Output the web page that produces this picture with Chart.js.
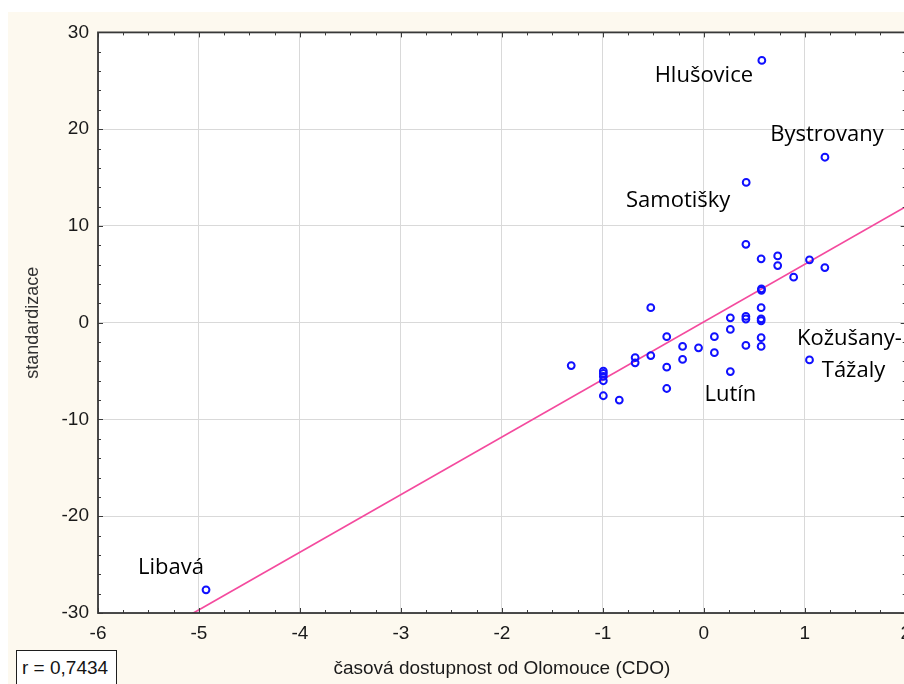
<!DOCTYPE html>
<html>
<head>
<meta charset="utf-8">
<script src="https://cdn.jsdelivr.net/npm/chart.js@4/dist/chart.umd.min.js"></script>
<style>
  html, body { margin: 0; padding: 0; width: 904px; height: 684px; overflow: hidden; background: #ffffff; }
  #panel { position: absolute; left: 8px; top: 12px; width: 912px; height: 672px; background: #fdf9ef; }
  #panel canvas { display: block; }
  #rbox {
    position: absolute; left: 16px; top: 650px; width: 94px; height: 40px;
    border: 1px solid #1e1e1e; background: #ffffff; color: #141414;
    font: 19px "Liberation Sans", Arial, sans-serif; line-height: 22px;
    padding: 6px 0 0 5px; white-space: nowrap;
  }
</style>
</head>
<body>
<div id="panel"><canvas id="chart" width="912" height="672"></canvas></div>
<div id="rbox"></div>
<script>
// Municipalities: travel-time accessibility from Olomouc (CDO) vs. standardised value
const xValues = [
  0.575, 1.20, 0.42, -4.93,
  0.417, 0.568, 0.732, 0.732, 1.047, 1.199, 0.89, 0.571, 0.571,
  0.568, 0.568, 0.568, 0.417, 0.417, 0.263, 0.263, 0.105, 0.105,
  -0.052, -0.21, -0.21, -0.367, -0.367, -0.367, -0.525, -0.525,
  -0.68, -0.68, -0.995, -0.995, -0.995, -0.995, -0.995, -0.837,
  0.568, 0.568, 0.417, 0.263, 1.047, -1.313
];
const yValues = [
  27.1, 17.1, 14.5, -27.6,
  8.1, 6.6, 6.9, 5.9, 6.5, 5.7, 4.7, 3.5, 3.35,
  1.55, 0.4, 0.2, 0.65, 0.38, 0.5, -0.7, -1.44, -3.1,
  -2.6, -2.45, -3.8, -1.44, -4.6, -6.8, 1.55, -3.4,
  -3.6, -4.15, -5.0, -5.25, -5.55, -6.0, -7.55, -8.0,
  -1.55, -2.45, -2.35, -5.05, -3.85, -4.43
];
const pointNames = [
  'Hlušovice', 'Bystrovany', 'Samotišky', 'Libavá',
  '', '', '', '', '', '', '', '', '',
  '', '', '', '', '', '', '', '', '',
  '', '', '', '', '', '', '', '',
  '', '', '', '', '', '', '', '',
  '', '', '', 'Lutín', 'Kožušany-\nTážaly', ''
];
const xTickValues = [-6, -5, -4, -3, -2, -1, 0, 1, 2];
const yTickValues = [-30, -20, -10, 0, 10, 20, 30];
const fitSlope = 5.95;
const fitIntercept = 0.08;
const rText = 'r = 0,7434';

const xTitle = 'časová dostupnost od Olomouce (CDO)';
const yTitle = 'standardizace';

document.getElementById('rbox').textContent = rText;

// Pixel offsets (per text line) of each name from its point
const nameOffsets = {
  'Hlušovice': [[-58, 22]],
  'Bystrovany': [[2, -16]],
  'Samotišky': [[-68, 25]],
  'Libavá': [[-35, -16]],
  'Lutín': [[0, 29]],
  'Kožušany-\nTážaly': [[40, -15], [44, 17]]
};

const AXIS_FONT = { family: '"Liberation Sans", Arial, sans-serif', size: 19 };
const TEXT_COLOR = '#1a1a1a';

const points = xValues.map((x, i) => ({ x: x, y: yValues[i] }));
const fitLine = [xTickValues[0], xTickValues[xTickValues.length - 1]]
  .map(x => ({ x: x, y: fitSlope * x + fitIntercept }));

// White plot area
const plotBackground = {
  id: 'plotBackground',
  beforeDraw(chart) {
    const { ctx, chartArea: a } = chart;
    ctx.save();
    ctx.fillStyle = '#ffffff';
    ctx.fillRect(a.left, a.top, a.right - a.left, a.bottom - a.top);
    ctx.restore();
  }
};

// Frame with inward major and minor tick marks on all four sides
const frameTicks = {
  id: 'frameTicks',
  afterDatasetsDraw(chart) {
    const { ctx, chartArea: a, scales } = chart;
    const xs = scales.x, ys = scales.y;
    ctx.save();
    ctx.strokeStyle = '#3a3a3a';
    ctx.lineWidth = 1;
    ctx.beginPath();
    for (let v = xs.min; v <= xs.max + 1e-9; v += 0.25) {
      const major = Math.abs(v - Math.round(v)) < 1e-6;
      const len = major ? 5 : 3;
      const px = Math.round(xs.getPixelForValue(v)) + 0.5;
      ctx.moveTo(px, a.bottom); ctx.lineTo(px, a.bottom - len);
      ctx.moveTo(px, a.top); ctx.lineTo(px, a.top + len);
    }
    for (let v = ys.min; v <= ys.max + 1e-9; v += 2) {
      const major = Math.abs(v / 10 - Math.round(v / 10)) < 1e-6;
      const len = major ? 5 : 3;
      const py = Math.round(ys.getPixelForValue(v)) + 0.5;
      ctx.moveTo(a.left, py); ctx.lineTo(a.left + len, py);
      ctx.moveTo(a.right, py); ctx.lineTo(a.right - len, py);
    }
    ctx.stroke();
    ctx.lineWidth = 1.8;
    ctx.strokeStyle = '#383838';
    ctx.strokeRect(a.left, a.top, a.right - a.left, a.bottom - a.top);
    ctx.restore();
  }
};

// Names of selected municipalities next to their points
const pointLabels = {
  id: 'pointLabels',
  afterDraw(chart) {
    const { ctx, scales } = chart;
    ctx.save();
    ctx.font = '22px "Open Sans", "Noto Sans", sans-serif';
    ctx.fillStyle = '#000000';
    ctx.textAlign = 'center';
    ctx.textBaseline = 'alphabetic';
    pointNames.forEach((name, i) => {
      if (!name) return;
      const px = scales.x.getPixelForValue(xValues[i]);
      const py = scales.y.getPixelForValue(yValues[i]);
      const lines = name.split('\n');
      const offs = nameOffsets[name] || [];
      lines.forEach((line, k) => {
        const o = offs[k] || [0, 0];
        ctx.fillText(line, px + o[0], py + o[1]);
      });
    });
    ctx.restore();
  }
};

new Chart(document.getElementById('chart'), {
  type: 'scatter',
  data: {
    datasets: [
      {
        label: 'obce',
        data: points,
        pointStyle: 'circle',
        pointRadius: 3.4,
        pointHoverRadius: 3.4,
        pointBorderWidth: 2,
        pointBorderColor: '#1010ff',
        pointBackgroundColor: 'rgba(0,0,0,0)',
        showLine: false,
        order: 0
      },
      {
        label: 'regrese',
        type: 'line',
        data: fitLine,
        borderColor: '#f44a9e',
        borderWidth: 1.7,
        pointRadius: 0,
        fill: false,
        order: 1
      }
    ]
  },
  options: {
    responsive: false,
    animation: false,
    events: [],
    layout: { padding: { top: 19, right: 13, left: 0, bottom: 0 } },
    plugins: { legend: { display: false }, tooltip: { enabled: false } },
    scales: {
      x: {
        type: 'linear',
        min: xTickValues[0],
        max: xTickValues[xTickValues.length - 1],
        afterBuildTicks: s => { s.ticks = xTickValues.map(v => ({ value: v })); },
        ticks: { font: AXIS_FONT, color: TEXT_COLOR, padding: 9, maxRotation: 0 },
        grid: { color: '#d9d9d9', lineWidth: 1, drawTicks: false },
        border: { display: false },
        title: {
          display: true, text: xTitle, font: AXIS_FONT, color: TEXT_COLOR,
          padding: { top: 0, bottom: 4 }
        },
        afterFit: s => { s.height = 71; }
      },
      y: {
        type: 'linear',
        min: yTickValues[0],
        max: yTickValues[yTickValues.length - 1],
        afterBuildTicks: s => { s.ticks = yTickValues.map(v => ({ value: v })); },
        ticks: { font: AXIS_FONT, color: TEXT_COLOR, padding: 9 },
        grid: { color: '#d9d9d9', lineWidth: 1, drawTicks: false },
        border: { display: false },
        title: {
          display: true, text: yTitle, font: { family: AXIS_FONT.family, size: 18 },
          color: '#333333', padding: { top: 14, bottom: 0 }
        },
        afterFit: s => { s.width = 90; }
      }
    }
  },
  plugins: [plotBackground, frameTicks, pointLabels]
});
</script>
</body>
</html>
